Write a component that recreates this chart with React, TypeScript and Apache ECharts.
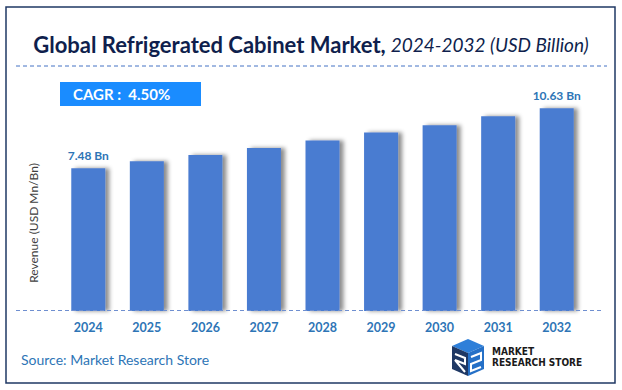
import React, { useEffect, useRef } from "react";
import * as echarts from "echarts";

const years = ["2024", "2025", "2026", "2027", "2028", "2029", "2030", "2031", "2032"];
const revenue = [7.48, 7.85, 8.17, 8.54, 8.94, 9.36, 9.74, 10.2, 10.63];
const labelledIdx = [0, 8];
const cagrText = "CAGR :  4.50%";

export default function App() {
  const ref = useRef<HTMLDivElement>(null);
  useEffect(() => {
    if (!ref.current) return;
    const chart = echarts.init(ref.current, undefined, { renderer: "svg" });
    const font = "Lato, 'Noto Sans', sans-serif";
    chart.setOption({
      animation: false,
      backgroundColor: "#ffffff",
      title: {
        text: "{a|Global Refrigerated Cabinet Market,} {b|2024-2032 (USD Billion)}",
        left: "center",
        top: 28,
        textStyle: {
          fontWeight: "normal",
          rich: {
            a: { fontFamily: font, fontWeight: "bold", fontSize: 22, color: "#0f1f4d" },
            b: { fontFamily: font, fontStyle: "italic", fontWeight: "normal", fontSize: 19, color: "#0f1f4d" },
          },
        },
      },
      grid: { left: 59, right: 36, top: 82, bottom: 79 },
      xAxis: {
        type: "category",
        data: years,
        axisLine: { show: false },
        axisTick: { show: false },
        axisLabel: { color: "#2e75b6", fontWeight: "bold", fontSize: 12.5, fontFamily: font, margin: 10 },
      },
      yAxis: {
        type: "value",
        min: 0,
        max: 12,
        axisLabel: { show: false },
        splitLine: { show: false },
        axisLine: { show: false },
        axisTick: { show: false },
      },
      series: [
        {
          type: "bar",
          barWidth: 34,
          data: revenue.map((v, i) => ({
            value: v,
            label: {
              show: labelledIdx.includes(i),
              position: "top",
              distance: 7,
              formatter: (p: any) => p.value.toFixed(2) + " Bn",
              color: "#2e75b6",
              fontWeight: "bold",
              fontSize: 12,
              fontFamily: font,
            },
          })),
          itemStyle: {
            color: "#4a7bd1",
            shadowColor: "rgba(0,0,0,0.45)",
            shadowBlur: 4,
            shadowOffsetX: 4,
            shadowOffsetY: 0,
          },
        },
      ],
      graphic: [
        {
          type: "rect",
          shape: { x: 6, y: 7, width: 609, height: 376 },
          style: { fill: "none", stroke: "#1f3864", lineWidth: 1.5 },
          silent: true,
        },
        {
          type: "line",
          shape: { x1: 16, y1: 66, x2: 607, y2: 66 },
          style: { stroke: "#4472c4", lineWidth: 1, lineDash: [4, 3] },
        },
        {
          type: "line",
          shape: { x1: 16, y1: 310.5, x2: 603, y2: 310.5 },
          style: { stroke: "#6f8fd0", lineWidth: 1, lineDash: [4, 3] },
          z: 10,
        },
        {
          type: "rect",
          shape: { x: 60, y: 82, width: 141, height: 24 },
          style: { fill: "#1a8cff" },
        },
        {
          type: "text",
          x: 73,
          y: 94,
          style: {
            text: cagrText,
            fill: "#ffffff",
            font: "bold 15px " + font,
            verticalAlign: "middle",
          },
        },
        {
          type: "text",
          x: 33,
          y: 223,
          rotation: Math.PI / 2,
          style: {
            text: "Revenue (USD Mn/Bn)",
            fill: "#404040",
            font: "12px " + font,
            align: "center",
            verticalAlign: "middle",
          },
        },
        {
          type: "text",
          x: 21,
          y: 359,
          style: {
            text: "Source: Market Research Store",
            fill: "#2e75b6",
            font: "14px " + font,
            verticalAlign: "middle",
          },
        },
        {
          type: "polygon",
          shape: { points: [[452, 346], [468, 339], [484, 346], [468, 353]] },
          style: { fill: "#2e7fd9" },
        },
        {
          type: "polygon",
          shape: { points: [[452, 346], [468, 353], [468, 376], [452, 369]] },
          style: { fill: "#1f3864" },
        },
        {
          type: "polygon",
          shape: { points: [[468, 353], [484, 346], [484, 369], [468, 376]] },
          style: { fill: "#2570c7" },
        },
        {
          type: "polyline",
          shape: { points: [[471, 357], [481, 353], [481, 360], [471, 364], [471, 371], [481, 367]] },
          style: { stroke: "#ffffff", lineWidth: 2, fill: "none" },
        },
        {
          type: "polyline",
          shape: { points: [[455, 354], [465, 358], [465, 364], [455, 360], [465, 372]] },
          style: { stroke: "#ffffff", lineWidth: 2, fill: "none" },
        },
        {
          type: "text",
          x: 492,
          y: 351,
          style: { text: "MARKET", fill: "#1a1a1a", font: "bold 10px 'Liberation Sans Narrow', 'DejaVu Sans Condensed', sans-serif", verticalAlign: "middle" },
        },
        {
          type: "text",
          x: 492,
          y: 362,
          style: { text: "RESEARCH STORE", fill: "#1a1a1a", font: "bold 10px 'Liberation Sans Narrow', 'DejaVu Sans Condensed', sans-serif", verticalAlign: "middle" },
        },
      ],
    });
    return () => chart.dispose();
  }, []);
  return <div ref={ref} style={{ width: 622, height: 390, position: "absolute", left: 0, top: 0 }} />;
}
